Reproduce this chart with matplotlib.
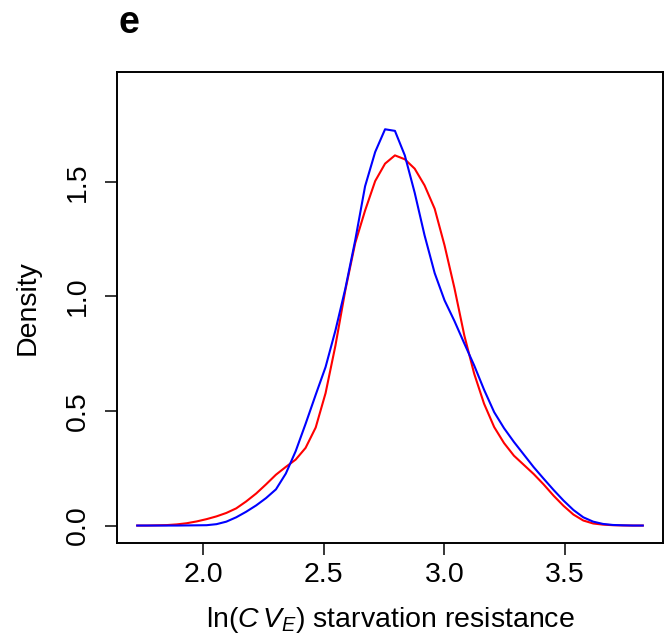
import numpy as np
import matplotlib
matplotlib.use("Agg")
import matplotlib.pyplot as plt

plt.rcParams['font.family'] = ['Liberation Sans', 'DejaVu Sans']
plt.rcParams['mathtext.fontset'] = 'custom'
plt.rcParams['mathtext.rm'] = 'Liberation Sans'
plt.rcParams['mathtext.it'] = 'Liberation Sans:italic'

# evaluation grid shared by both density curves
x_grid = [1.725, 1.766, 1.807, 1.848, 1.889, 1.930, 1.972, 2.013, 2.054, 2.095,
          2.136, 2.177, 2.219, 2.260, 2.301, 2.342, 2.383, 2.424, 2.466, 2.507,
          2.548, 2.589, 2.630, 2.671, 2.713, 2.754, 2.795, 2.836, 2.877, 2.918,
          2.960, 3.001, 3.042, 3.083, 3.124, 3.165, 3.207, 3.248, 3.289, 3.330,
          3.371, 3.412, 3.454, 3.495, 3.536, 3.577, 3.618, 3.659, 3.700, 3.742,
          3.783, 3.824]

# red density
dens_red = [0.0, 0.0, 0.001, 0.002, 0.005, 0.010, 0.018, 0.028, 0.040, 0.055,
            0.075, 0.105, 0.140, 0.180, 0.222, 0.256, 0.288, 0.339, 0.428, 0.578,
            0.786, 1.027, 1.233, 1.375, 1.504, 1.580, 1.616, 1.599, 1.558, 1.485,
            1.383, 1.223, 1.037, 0.830, 0.663, 0.532, 0.430, 0.360, 0.305, 0.265,
            0.225, 0.180, 0.130, 0.086, 0.048, 0.022, 0.009, 0.004, 0.0015, 0.0005,
            0.0, 0.0]

# blue density
dens_blue = [0.0, 0.0, 0.0, 0.0, 0.0, 0.0005, 0.001, 0.0015, 0.006, 0.017,
             0.036, 0.060, 0.088, 0.120, 0.158, 0.227, 0.325, 0.444, 0.571, 0.692,
             0.852, 1.034, 1.245, 1.481, 1.631, 1.730, 1.723, 1.616, 1.453, 1.267,
             1.102, 0.983, 0.893, 0.795, 0.699, 0.593, 0.495, 0.425, 0.365, 0.310,
             0.255, 0.205, 0.155, 0.109, 0.068, 0.036, 0.017, 0.007, 0.0025, 0.001,
             0.0, 0.0]

xticks = [2.0, 2.5, 3.0, 3.5]
yticks = [0.0, 0.5, 1.0, 1.5]

fig = plt.figure(figsize=(6.65, 6.42), dpi=100)
ax = fig.add_axes([117/665, 1 - 543/642, (663 - 117)/665, (543 - 72)/642])

ax.plot(x_grid, dens_red, color='#FF0000', lw=1.5)
ax.plot(x_grid, dens_blue, color='#0000FF', lw=1.5)

# R-style 4% padding on x
pad = 0.04 * (x_grid[-1] - x_grid[0])
ax.set_xlim(x_grid[0] - pad, x_grid[-1] + pad)
ax.set_ylim(-0.0762, 1.98)

ax.set_xticks(xticks)
ax.set_xticklabels(['%.1f' % v for v in xticks])
ax.set_yticks(yticks)
ax.set_yticklabels(['%.1f' % v for v in yticks], rotation=90, va='center')

ax.tick_params(axis='both', direction='out', length=8.5, width=1.1,
               labelsize=20.5, colors='black')
ax.tick_params(axis='x', pad=5.5)
ax.tick_params(axis='y', pad=10)
for s in ax.spines.values():
    s.set_linewidth(1.4)

ax.set_xlabel(r'ln($C\,V_E$) starvation resistance', fontsize=20.5, labelpad=12)
ax.set_ylabel('Density', fontsize=20.5, labelpad=18)

fig.text(118/665, 1 - 33/642, 'e', fontsize=27, fontweight='bold', ha='left', va='baseline')

fig.savefig('out.png', dpi=100)
